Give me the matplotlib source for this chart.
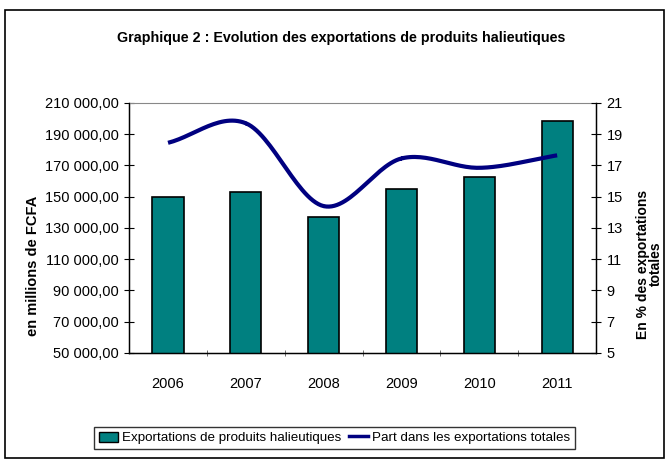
import numpy as np
import matplotlib
matplotlib.use("Agg")
import matplotlib.pyplot as plt
from matplotlib.lines import Line2D
from matplotlib.patches import Patch, Rectangle

plt.rcParams['font.family'] = ['Liberation Sans Narrow', 'Liberation Sans', 'DejaVu Sans']

# données
annees = ['2006', '2007', '2008', '2009', '2010', '2011']
exportations = [149800, 153200, 136900, 155200, 162600, 198300]   # millions de FCFA
part = [18.45, 19.7, 14.4, 17.45, 16.85, 17.65]                   # % des exportations totales

yticks_g = list(range(50000, 210001, 20000))
yticks_d = list(range(5, 22, 2))


def fmt_fr(v):
    return f"{v:,.2f}".replace(",", " ").replace(".", ",")


def catmull_rom(x, y, n=30):
    # courbe lissée type Excel passant par les points
    x = np.asarray(x, float)
    y = np.asarray(y, float)
    px = np.concatenate([[2 * x[0] - x[1]], x, [2 * x[-1] - x[-2]]])
    py = np.concatenate([[2 * y[0] - y[1]], y, [2 * y[-1] - y[-2]]])
    xs, ys = [], []
    t = np.linspace(0, 1, n)
    for i in range(1, len(px) - 2):
        for p, out in ((px, xs), (py, ys)):
            p0, p1, p2, p3 = p[i - 1], p[i], p[i + 1], p[i + 2]
            out.extend(0.5 * (2 * p1 + (-p0 + p2) * t
                              + (2 * p0 - 5 * p1 + 4 * p2 - p3) * t ** 2
                              + (-p0 + 3 * p1 - 3 * p2 + p3) * t ** 3))
    return np.array(xs), np.array(ys)


fig = plt.figure(figsize=(6.69, 4.63), dpi=100)
fig.patches.append(Rectangle((0.008, 0.011), 0.984, 0.967, transform=fig.transFigure,
                             fill=False, edgecolor='black', linewidth=1.2))

ax = fig.add_axes([0.193, 0.2376, 0.698, 0.54])
x = np.arange(len(annees))
ax.bar(x, exportations, width=0.4, color='#008080', edgecolor='black', linewidth=1.2, zorder=2)
ax.set_xlim(-0.5, len(annees) - 0.5)
ax.set_ylim(50000, 210000)
ax.set_yticks(yticks_g)
ax.set_yticklabels([fmt_fr(v) for v in yticks_g], fontsize=10.5)
ax.set_xticks(x)
ax.set_xticklabels(annees, fontsize=10.5)
ax.set_xticks(np.arange(0.5, len(annees) - 0.5), minor=True)
ax.tick_params(axis='x', which='major', length=0, pad=17)
ax.tick_params(axis='x', which='minor', length=5, direction='inout', color='#555555')
ax.tick_params(axis='y', length=7, direction='inout', width=0.8, pad=4)
ax.spines['top'].set_color('#888888')
for s in ('left', 'bottom', 'right'):
    ax.spines[s].set_linewidth(1.0)

ax2 = ax.twinx()
sx, sy = catmull_rom(x, part)
ax2.plot(sx, sy, color='#000080', linewidth=3, solid_capstyle='butt', zorder=3)
ax2.set_ylim(5, 21)
ax2.set_yticks(yticks_d)
ax2.set_yticklabels([str(v) for v in yticks_d], fontsize=10.5)
ax2.tick_params(axis='y', length=7, direction='inout', width=0.8, pad=4)
ax2.spines['top'].set_visible(False)

# titres d'axes placés comme dans l'original (un peu sous le centre)
fig.text(33 / 669, 1 - 266 / 463, 'en millions de FCFA', rotation=90, ha='center', va='center',
         fontsize=10.5, fontweight='bold')
fig.text(649 / 669, 1 - 264 / 463, 'En % des exportations\ntotales', rotation=90, ha='center',
         va='center', fontsize=10, fontweight='bold', linespacing=0.9, multialignment='center')

fig.text(0.51, 0.918, 'Graphique 2 : Evolution des exportations de produits halieutiques',
         ha='center', va='center', fontsize=10.3, fontweight='bold')

handles = [Patch(facecolor='#008080', edgecolor='black', linewidth=1),
           Line2D([0], [0], color='#000080', linewidth=2.5)]
leg = fig.legend(handles, ['Exportations de produits halieutiques', 'Part dans les exportations totales'],
                 loc='center', bbox_to_anchor=(0.5, 0.054), ncol=2, fontsize=9.6,
                 frameon=True, fancybox=False, edgecolor='black', handlelength=1.4,
                 handletextpad=0.3, columnspacing=0.6, borderpad=0.35, handleheight=0.8)
leg.get_frame().set_linewidth(1.0)

fig.savefig('out.png', dpi=100)
